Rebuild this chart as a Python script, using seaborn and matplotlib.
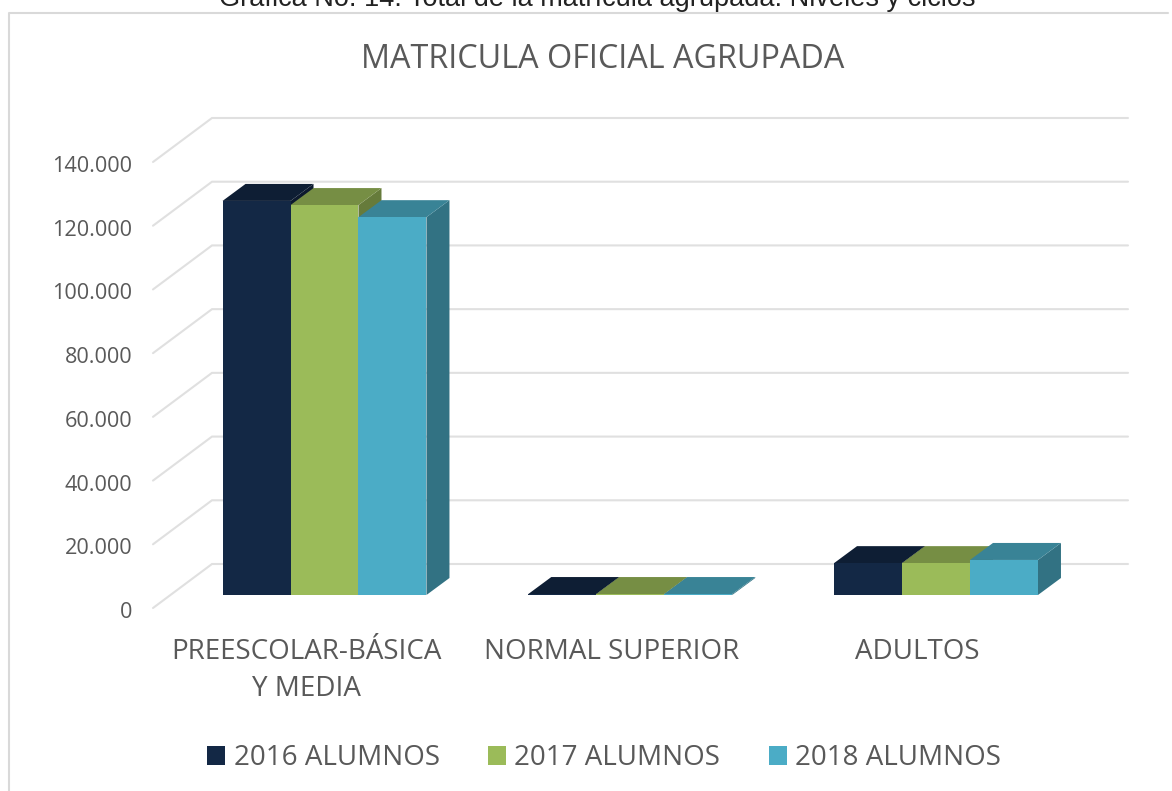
import matplotlib
matplotlib.use("Agg")
import matplotlib.pyplot as plt
from matplotlib.lines import Line2D
from matplotlib.patches import Polygon
from matplotlib.transforms import ScaledTranslation
import numpy as np
import pandas as pd
import seaborn as sns

categories = ["PREESCOLAR-BÁSICA\nY MEDIA", "NORMAL SUPERIOR", "ADULTOS"]
series_names = ["2016 ALUMNOS", "2017 ALUMNOS", "2018 ALUMNOS"]
values_2016 = [123700, 300, 10000]
values_2017 = [122400, 300, 10000]
values_2018 = [118600, 300, 11000]
yticks = [0, 20000, 40000, 60000, 80000, 100000, 120000, 140000]
ytick_labels = ["0", "20.000", "40.000", "60.000", "80.000", "100.000", "120.000", "140.000"]
colors = ["#132845", "#9BBB59", "#4BACC6"]
title = "MATRICULA OFICIAL AGRUPADA"
caption = "Gráfica No. 14: Total de la matrícula agrupada: Niveles y ciclos"

W, H = 1172, 791
sns.set_theme(style="white")
plt.rcParams["font.family"] = ["Open Sans", "DejaVu Sans"]
TXT = "#595959"
GRID = "#E0E0E0"

fig = plt.figure(figsize=(W / 100, H / 100), dpi=100, facecolor="white")
L, R, T, B = 153, 1128, 118, 595
ax = fig.add_axes([L / W, 1 - B / H, (R - L) / W, (B - T) / H])
ax.patch.set_visible(False)

df = pd.DataFrame({
    "cat": categories * 3,
    "serie": np.repeat(series_names, 3),
    "val": values_2016 + values_2017 + values_2018,
})
sns.barplot(data=df, x="cat", y="val", hue="serie", palette=colors, width=0.667, gap=0,
            saturation=1, ax=ax, zorder=5, linewidth=0, legend=True)

px_x = 305.75
px_y = 446 / 140000
x0 = -(324.5 - L) / px_x
ax.set_xlim(x0, x0 + (R - L) / px_x)
ax.set_ylim(0, (B - T) / px_y)
for s in ax.spines.values():
    s.set_visible(False)
ax.set_xlabel("")
ax.set_ylabel("")
ax.tick_params(length=0)

# walls: oblique + back gridlines
back_dy = 31 / px_y
front_dy = -13 / px_y
back_x = x0 + 59 / px_x
for v in yticks:
    ax.plot([x0, back_x, ax.get_xlim()[1]], [v + front_dy, v + back_dy, v + back_dy],
            color=GRID, lw=1.5, clip_on=False, zorder=1, solid_joinstyle="miter")

# pseudo-3D faces from the bars that seaborn drew
ddx, ddy = 23 / px_x, 17 / px_y
bars = [p for p in ax.patches if p.get_height() > 0]
for p in sorted(bars, key=lambda q: q.get_x()):
    x, w, h = p.get_x(), p.get_width(), p.get_height()
    rgb = np.array(p.get_facecolor()[:3])
    top = [(x, h), (x + w, h), (x + w + ddx, h + ddy), (x + ddx, h + ddy)]
    side = [(x + w, 0), (x + w + ddx, ddy), (x + w + ddx, h + ddy), (x + w, h)]
    ax.add_patch(Polygon(side, closed=True, fc=rgb * 0.66, ec="none", zorder=3, clip_on=False))
    ax.add_patch(Polygon(top, closed=True, fc=rgb * 0.76, ec="none", zorder=3, clip_on=False))

# y tick labels
ax.set_yticks(yticks)
ax.set_yticklabels(ytick_labels, fontsize=15.6, color=TXT)
off = ScaledTranslation(-16 / 100, -15 / 100, fig.dpi_scale_trans)
for lab in ax.get_yticklabels():
    lab.set_transform(lab.get_transform() + off)

# x tick labels
ax.set_xticks(range(len(categories)))
ax.set_xticklabels(categories, fontsize=20, color=TXT, linespacing=1.45)
offx = ScaledTranslation(-18.5 / 100, -38 / 100, fig.dpi_scale_trans)
for lab in ax.get_xticklabels():
    lab.set_transform(lab.get_transform() + offx)

# legend
handles, labels = ax.get_legend_handles_labels()
ax.legend(handles, labels, ncol=3, frameon=False, loc="center",
          bbox_to_anchor=(604 / W, 1 - 758 / H), bbox_transform=fig.transFigure,
          fontsize=20, labelcolor=TXT, handlelength=0.65, handleheight=0.65,
          handletextpad=0.3, columnspacing=1.74, borderpad=0, borderaxespad=0)

fig.text(602.5 / W, 1 - 60 / H, title, fontsize=23.3, color=TXT, ha="center", va="center")
fig.text(597 / W, 1 - 6.5 / H, caption, fontsize=19.5, color="#222222", ha="center", va="baseline",
         family="Liberation Sans")

fig.add_artist(Line2D([9 / W, 9 / W, 1168 / W], [0, 1 - 12.5 / H, 1 - 12.5 / H],
                      color="#D9D9D9", lw=1.5))
fig.savefig("out.png", dpi=100)
